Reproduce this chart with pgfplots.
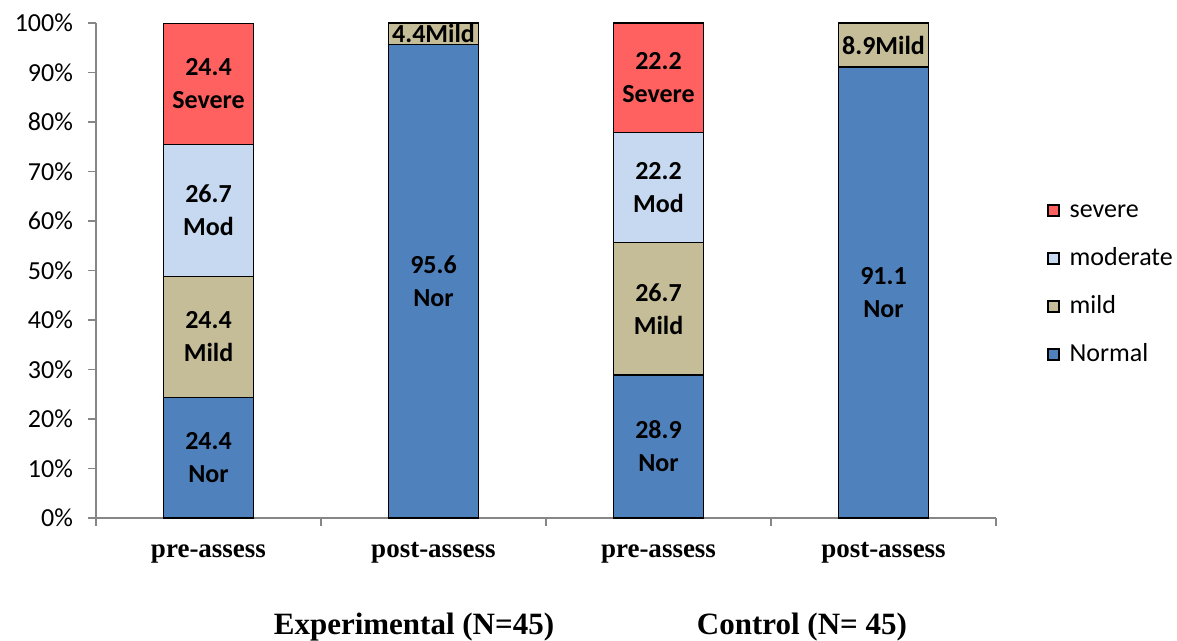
\documentclass[border=0pt]{standalone}
\usepackage{pgfplots}
\pgfplotsset{compat=1.18}
\usepackage{pgfplotstable}
\usepackage{fontspec}
\setmainfont{Carlito}
\newfontfamily\timesfont{Liberation Serif}

\definecolor{cnormal}{HTML}{4F81BD}
\definecolor{cmild}{HTML}{C4BD97}
\definecolor{cmoderate}{HTML}{C6D9F1}
\definecolor{csevere}{HTML}{FF6161}
\definecolor{axisgray}{HTML}{868686}

% one table per severity level: x = group position, y = percent, lbl = text in the bar
\pgfplotstableread{
x y lbl
0 24.4 {24.4\\Nor}
1 95.6 {95.6\\Nor}
2 28.9 {28.9\\Nor}
3 91.1 {91.1\\Nor}
}\normaltab
\pgfplotstableread{
x y lbl
0 24.4 {24.4\\Mild}
1 4.4 {4.4Mild}
2 26.7 {26.7\\Mild}
3 8.9 {8.9Mild}
}\mildtab
\pgfplotstableread{
x y lbl
0 26.7 {26.7\\Mod}
1 0 {}
2 22.2 {22.2\\Mod}
3 0 {}
}\moderatetab
\pgfplotstableread{
x y lbl
0 24.4 {24.4\\Severe}
1 0 {}
2 22.2 {22.2\\Severe}
3 0 {}
}\severetab

\begin{document}
\begin{tikzpicture}
\begin{axis}[
    scale only axis,
    width=450pt, height=247.5pt,
    ybar stacked, bar width=45pt,
    xmin=-0.5, xmax=3.5, ymin=0, ymax=100,
    clip=false,
    axis x line*=bottom, axis y line*=left,
    axis line style={draw=axisgray, line width=0.7pt},
    tick style={draw=axisgray, line width=0.7pt},
    tick align=outside, major tick length=4pt,
    xtick={-0.5,0.5,1.5,2.5,3.5}, xticklabels={},
    extra x ticks={0,1,2,3},
    extra x tick labels={pre-assess,post-assess,pre-assess,post-assess},
    extra x tick style={major tick length=0pt, tick style={draw=none},
        xticklabel style={font=\timesfont\bfseries\fontsize{13.5}{16}\selectfont,
            anchor=base, yshift=-20pt}},
    ytick={0,10,...,100},
    yticklabel={\pgfmathprintnumber{\tick}\%},
    yticklabel style={font=\fontsize{13}{15}\selectfont, xshift=-4pt},
    /pgf/number format/assume math mode=true,
    every axis plot/.append style={draw=black, line width=0.6pt},
    % stacked labels already sit in the middle of their segment
    nodes near coords,
    point meta=explicit symbolic,
    every node near coord/.append style={
        font=\bfseries\fontsize{13}{16.5}\selectfont, text=black,
        align=center, anchor=center},
    reverse legend,
    legend style={at={(1.0567,0.4758)}, anchor=west, draw=none, fill=none,
        inner sep=0pt, row sep=12pt,
        font=\fontsize{13}{15}\selectfont,
        nodes={inner sep=0pt, text height=9.5pt, text depth=2.5pt, anchor=west}},
    legend image code/.code={
        \draw[#1, draw=black, line width=0.6pt] (0pt,-2.75pt) rectangle (5.5pt,2.75pt);
        \path (10.5pt,0pt);},
]
\addplot[fill=cnormal] table[x=x, y=y, meta=lbl] {\normaltab};
\addlegendentry{Normal}
\addplot[fill=cmild] table[x=x, y=y, meta=lbl] {\mildtab};
\addlegendentry{mild}
\addplot[fill=cmoderate] table[x=x, y=y, meta=lbl] {\moderatetab};
\addlegendentry{moderate}
\addplot[fill=csevere] table[x=x, y=y, meta=lbl] {\severetab};
\addlegendentry{severe}

\node[font=\timesfont\bfseries\fontsize{15.5}{18}\selectfont]
    at (rel axis cs:0.3533,-0.2202) {Experimental (N=45)};
\node[font=\timesfont\bfseries\fontsize{15.5}{18}\selectfont]
    at (rel axis cs:0.7844,-0.2202) {Control (N= 45)};
\end{axis}
\pgfresetboundingbox
\path[use as bounding box] (current axis.south west) ++(-48pt,-61.5pt) rectangle ++(588.5pt,320.5pt);
\end{tikzpicture}
\end{document}
